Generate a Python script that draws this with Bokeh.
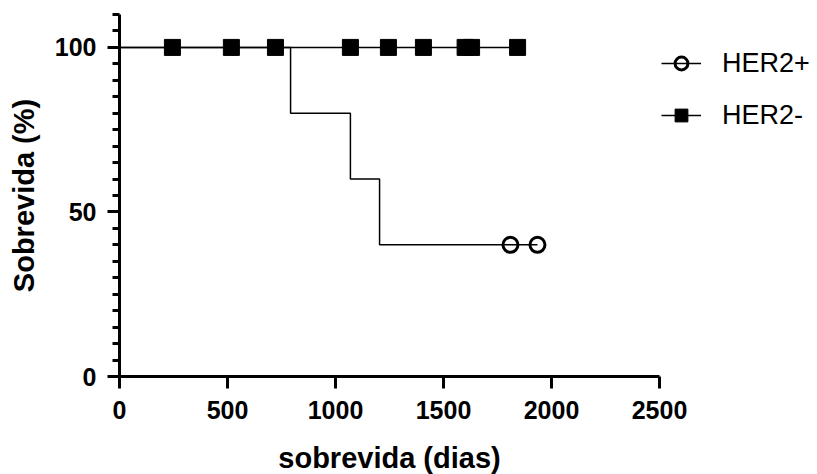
import math
from bokeh.plotting import figure
from bokeh.models import FixedTicker, Legend, LegendItem
from bokeh.embed import file_html
from bokeh.resources import INLINE

# Data
her2pos_time = [0, 792, 1069, 1204, 1935]
her2pos_surv = [100, 80, 60, 40, 40]
her2pos_censor_time = [1810, 1935]
her2pos_censor_surv = [40, 40]

her2neg_time = [0, 1843]
her2neg_surv = [100, 100]
her2neg_censor_time = [245, 518, 722, 1069, 1245, 1407, 1600, 1630, 1843]
her2neg_censor_surv = [100] * len(her2neg_censor_time)

x_ticks = [0, 500, 1000, 1500, 2000, 2500]
y_ticks = [0, 50, 100]
y_minor = list(range(0, 111, 5))

FONT = "Liberation Sans"

p = figure(frame_width=540, frame_height=362, x_range=(0, 2500), y_range=(0, 110),
           output_backend="svg", toolbar_location=None,
           min_border_left=119, min_border_right=157, min_border_top=14, min_border_bottom=97)
p.outline_line_color = None
p.grid.visible = False
p.background_fill_color = "white"
p.border_fill_color = "white"

r_neg_line = p.line(her2neg_time, her2neg_surv, line_color="black", line_width=1.5)
r_pos_line = p.step(her2pos_time, her2pos_surv, mode="after", line_color="black", line_width=1.5)
r_neg_pts = p.scatter(her2neg_censor_time, her2neg_censor_surv, marker="square", size=16,
                      fill_color="black", line_color="black", line_width=1)
r_pos_pts = p.scatter(her2pos_censor_time, her2pos_censor_surv, marker="circle", size=15,
                      fill_color=None, line_color="black", line_width=3)

for ax in (p.xaxis[0], p.yaxis[0]):
    ax.axis_line_width = 3
    ax.axis_line_color = "black"
    ax.major_tick_line_width = 3
    ax.major_tick_in = 0
    ax.major_tick_out = 12
    ax.major_label_text_font = FONT
    ax.major_label_text_font_style = "bold"
    ax.major_label_text_font_size = "25px"
    ax.major_label_text_color = "black"
    ax.axis_label_text_font = FONT
    ax.axis_label_text_font_style = "bold"
    ax.axis_label_text_font_size = "29px"
    ax.axis_label_text_color = "black"

p.xaxis.ticker = FixedTicker(ticks=x_ticks, minor_ticks=[])
p.yaxis.ticker = FixedTicker(ticks=y_ticks, minor_ticks=y_minor)
p.xaxis.minor_tick_line_color = None
p.yaxis.minor_tick_line_width = 3
p.yaxis.minor_tick_in = 0
p.yaxis.minor_tick_out = 7
p.xaxis.major_label_standoff = 12
p.yaxis.major_label_standoff = 11
p.xaxis.axis_label = "sobrevida (dias)"
p.yaxis.axis_label = "Sobrevida (%)"
p.xaxis.axis_label_standoff = 20
p.yaxis.axis_label_standoff = 12

legend = Legend(items=[LegendItem(label="HER2+", renderers=[r_pos_line, r_pos_pts]),
                       LegendItem(label="HER2-", renderers=[r_neg_line, r_neg_pts])],
                location=(2, 245), border_line_color=None, background_fill_alpha=0,
                padding=0, margin=0, spacing=20, glyph_width=40, glyph_height=32,
                label_height=32, label_standoff=21,
                label_text_font=FONT, label_text_font_size="27px", label_text_color="black")
p.add_layout(legend, "right")

open("out.html", "w").write(file_html(p, INLINE))
